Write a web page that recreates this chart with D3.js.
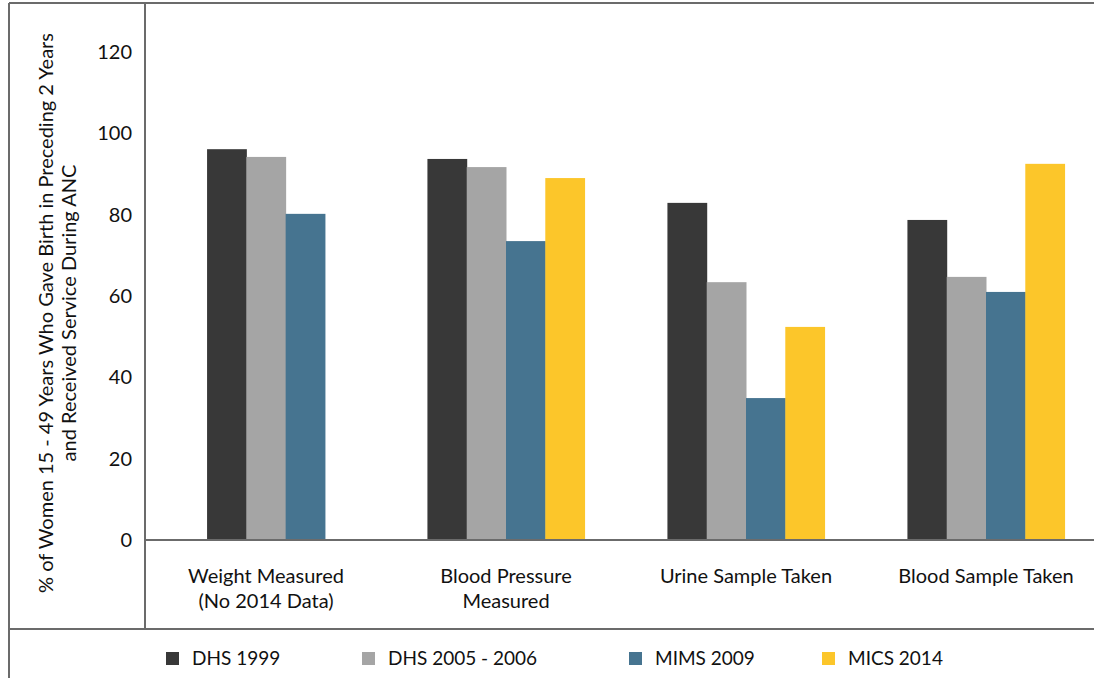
<!DOCTYPE html>
<html>
<head>
<meta charset="utf-8">
<script src="https://cdn.jsdelivr.net/npm/d3@7/dist/d3.min.js"></script>
<style>
  html, body { margin: 0; padding: 0; background: #ffffff; }
  svg { display: block; }
  text { font-family: Lato, "Open Sans", sans-serif; fill: #111111; }
</style>
</head>
<body>
<svg id="chart" width="1094" height="678"></svg>
<script>
// ANC services received, by survey
const categories = ["Weight Measured", "Blood Pressure Measured", "Urine Sample Taken", "Blood Sample Taken"];
const categoryLines = [
  ["Weight Measured", "(No 2014 Data)"],
  ["Blood Pressure", "Measured"],
  ["Urine Sample Taken"],
  ["Blood Sample Taken"]
];
const seriesNames = ["DHS 1999", "DHS 2005 - 2006", "MIMS 2009", "MICS 2014"];
const dhs1999  = [96.1, 93.7, 82.9, 78.7];
const dhs2005  = [94.2, 91.7, 63.4, 64.7];
const mims2009 = [80.2, 73.5, 34.9, 61.0];
const mics2014 = [null, 89.0, 52.4, 92.5];
const yTicks = [0, 20, 40, 60, 80, 100, 120];
const yTitleLines = [
  "% of Women 15 - 49 Years Who Gave Birth in Preceding 2 Years",
  "and Received Service During ANC"
];

const colors = ["#383838", "#a5a5a5", "#467490", "#fcc62a"];
const seriesValues = [dhs1999, dhs2005, mims2009, mics2014];

const W = 1094, H = 678;
const plot = { left: 146, right: 1106, top: 52, bottom: 540 };
const FONT = 20;

const svg = d3.select("#chart");

const x = d3.scaleBand().domain(categories).range([plot.left, plot.right]).padding(0);
const y = d3.scaleLinear().domain([0, 120]).range([plot.bottom, plot.top]);
const color = d3.scaleOrdinal().domain(seriesNames).range(colors);

// bar width as a share of the category band
const barW = x.bandwidth() * 0.1637;

// frame lines
const frame = svg.append("g").attr("stroke", "#6b6b6b").attr("stroke-width", 2);
frame.append("line").attr("x1", 9).attr("x2", W).attr("y1", 3).attr("y2", 3);
frame.append("line").attr("x1", 9).attr("x2", 9).attr("y1", 3).attr("y2", H);
frame.append("line").attr("x1", 145).attr("x2", 145).attr("y1", 3).attr("y2", 629);
frame.append("line").attr("x1", 9).attr("x2", W).attr("y1", 629).attr("y2", 629);

// bars: the series present in each category are centred in its band
const groups = svg.append("g").selectAll("g")
  .data(categories.map((c, i) => ({
    cat: c,
    bars: seriesNames
      .map((s, k) => ({ series: s, value: seriesValues[k][i] }))
      .filter(d => d.value != null)
  })))
  .join("g");

groups.each(function(g) {
  const cx = x(g.cat) + x.bandwidth() / 2;
  const n = g.bars.length;
  const x1 = d3.scaleBand()
    .domain(g.bars.map(d => d.series))
    .range([cx - n * barW / 2, cx + n * barW / 2]);
  d3.select(this).selectAll("rect")
    .data(g.bars)
    .join("rect")
    .attr("x", d => x1(d.series))
    .attr("width", x1.bandwidth() + 0.5)
    .attr("y", d => y(d.value))
    .attr("height", d => y(0) - y(d.value))
    .attr("fill", d => color(d.series));
});

// y axis labels
const yAxis = svg.append("g")
  .attr("transform", `translate(${plot.left},0)`)
  .call(d3.axisLeft(y).tickValues(yTicks).tickSize(0).tickPadding(14));
yAxis.select(".domain").remove();
yAxis.selectAll("text")
  .attr("font-family", "Lato, 'Open Sans', sans-serif")
  .attr("font-size", FONT)
  .attr("fill", "#111");

// x axis baseline and category labels
const xAxis = svg.append("g")
  .attr("transform", `translate(0,${plot.bottom})`)
  .call(d3.axisBottom(x).tickSize(0).tickFormat(""));
xAxis.select(".domain")
  .attr("d", `M145,0H${W}`)
  .attr("stroke", "#6b6b6b")
  .attr("stroke-width", 2);

categories.forEach((c, i) => {
  const t = svg.append("text")
    .attr("x", x(c) + x.bandwidth() / 2)
    .attr("y", 583)
    .attr("text-anchor", "middle")
    .attr("font-size", FONT);
  categoryLines[i].forEach((line, j) => {
    t.append("tspan")
      .attr("x", x(c) + x.bandwidth() / 2)
      .attr("dy", j === 0 ? 0 : 25)
      .text(line);
  });
});

// y axis title
const yTitle = svg.append("g").attr("transform", "translate(0,313) rotate(-90)");
yTitleLines.forEach((line, j) => {
  yTitle.append("text")
    .attr("x", 0)
    .attr("y", 53 + j * 23)
    .attr("text-anchor", "middle")
    .attr("font-size", FONT)
    .text(line);
});

// legend
const legendX = [166, 362, 629, 822];
const legend = svg.append("g").selectAll("g")
  .data(seriesNames)
  .join("g")
  .attr("transform", (d, i) => `translate(${legendX[i]},652)`);
legend.append("rect")
  .attr("width", 13).attr("height", 13)
  .attr("fill", d => color(d));
legend.append("text")
  .attr("x", 26).attr("y", 13)
  .attr("font-size", 19)
  .text(d => d);
</script>
</body>
</html>
